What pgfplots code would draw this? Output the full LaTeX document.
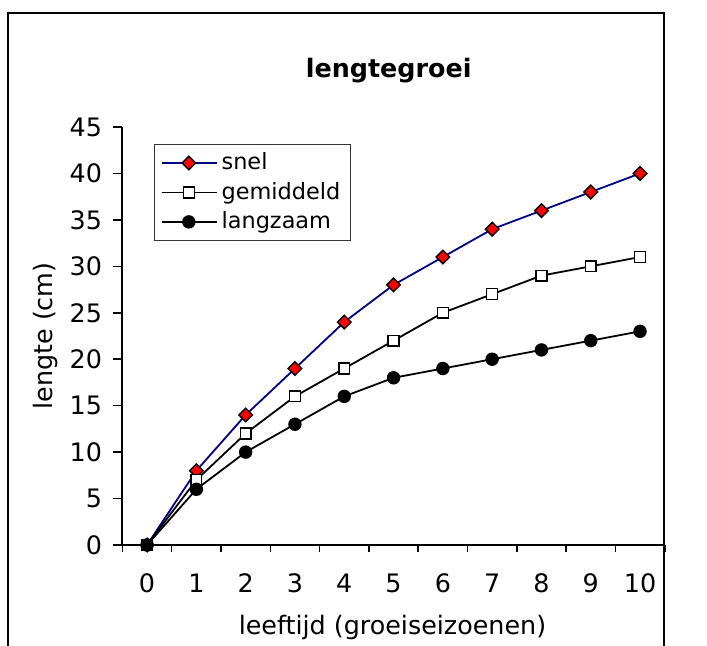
\documentclass[border=0pt]{standalone}
\usepackage{fontspec}
\setmainfont{DejaVu Sans}
\usepackage{pgfplots}
\pgfplotsset{compat=1.18}
\definecolor{navy}{RGB}{0,0,128}
\begin{document}
\fontsize{12.7}{15}\selectfont
\begin{tikzpicture}
\begin{axis}[
    scale only axis,
    width=271.15pt, height=209pt,
    at={(0,0)}, anchor=south west,
    xmin=-0.5, xmax=10.5,
    ymin=0, ymax=45,
    axis x line=bottom, axis y line=left,
    axis line style={-, line width=1pt},
    xtick={0,...,10},
    minor xtick={-0.5,0.5,...,10.5},
    ytick={0,5,...,45},
    tick align=outside,
    major tick length=4.5pt,
    minor tick length=3.5pt,
    major x tick style={draw=none},
    minor x tick style={line width=0.8pt, black},
    major y tick style={line width=0.8pt, black},
    /pgf/number format/assume math mode=true,
    tick label style={font=\fontsize{12.7}{15}\selectfont},
    xticklabel style={anchor=base, yshift=-19.5pt},
    yticklabel style={anchor=east, inner sep=0pt, xshift=-5.5pt},
    title={\bfseries lengtegroei},
    title style={at={(0.491,1)}, anchor=base, yshift=18.5pt, font=\fontsize{12.7}{15}\selectfont},
    xlabel={leeftijd (groeiseizoenen)},
    xlabel style={at={(0.498,0)}, anchor=base, yshift=-45pt, font=\fontsize{12.7}{15}\selectfont},
    ylabel={lengte (cm)},
    ylabel style={at={(-0.1297,0.5)}, anchor=base, font=\fontsize{12.7}{15}\selectfont},
    clip=false,
    legend style={at={(0.0583,0.9593)}, anchor=north west, draw=black!80, line width=0.6pt,
        font=\fontsize{11.2}{13}\selectfont, inner xsep=3pt, inner ysep=2pt, row sep=0.3pt},
    legend cell align=left,
    legend image code/.code={\draw[mark repeat=2,mark phase=2] plot coordinates {(0cm,0cm) (0.48cm,0cm) (0.97cm,0cm)};},
]
\addplot[navy, line width=0.9pt, mark=square*, mark size=2.4pt,
    mark options={rotate=45, fill=red, draw=black, line width=0.7pt}]
    coordinates {(0,0) (1,8) (2,14) (3,19) (4,24) (5,28) (6,31) (7,34) (8,36) (9,38) (10,40)};
\addlegendentry{snel}
\addplot[black, line width=0.9pt, mark=square*, mark size=2.7pt,
    mark options={fill=white, draw=black, line width=0.7pt}]
    coordinates {(0,0) (1,7) (2,12) (3,16) (4,19) (5,22) (6,25) (7,27) (8,29) (9,30) (10,31)};
\addlegendentry{gemiddeld}
\addplot[black, line width=0.9pt, mark=*, mark size=2.9pt,
    mark options={fill=black, draw=black}]
    coordinates {(0,0) (1,6) (2,10) (3,13) (4,16) (5,18) (6,19) (7,20) (8,21) (9,22) (10,23)};
\addlegendentry{langzaam}
\end{axis}
\draw[line width=1pt] (-57.2pt,-52pt) -- (-57.2pt,266pt) -- (270.8pt,266pt) -- (270.8pt,-52pt);
\pgfresetboundingbox
\path[use as bounding box] (-61.2pt,-50.5pt) rectangle (292.3pt,272.5pt);
\end{tikzpicture}
\end{document}
